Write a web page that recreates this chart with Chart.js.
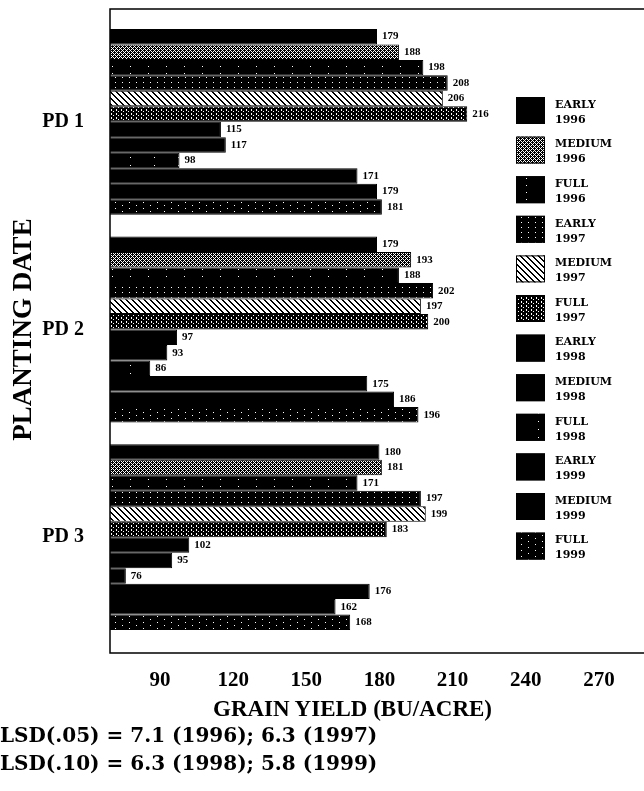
<!DOCTYPE html>
<html>
<head>
<meta charset="utf-8">
<script src="https://cdn.jsdelivr.net/npm/chart.js@4"></script>
<style>
  body { margin: 0; background: #fff; }
  #wrap { position: relative; width: 644px; height: 791px; }
  .txt { position: absolute; font-weight: bold; color: #000; white-space: nowrap; line-height: 1; }
</style>
</head>
<body>
<div id="wrap">
  <canvas id="yieldChart" width="644" height="791"></canvas>
  <div class="txt" style="left:213px; top:697px; font-size:23px; font-family:'Liberation Serif', serif;">GRAIN YIELD (BU/ACRE)</div>
  <div class="txt" style="left:0; top:725px; font-size:20px; font-family:'DejaVu Serif', serif;">LSD(.05) = 7.1 (1996); 6.3 (1997)</div>
  <div class="txt" style="left:0; top:753px; font-size:20px; font-family:'DejaVu Serif', serif;">LSD(.10) = 6.3 (1998); 5.8 (1999)</div>
</div>
<script>
const plantingDates = ["PD 1", "PD 2", "PD 3"];
const seriesNames = ["EARLY", "MEDIUM", "FULL", "EARLY", "MEDIUM", "FULL",
                     "EARLY", "MEDIUM", "FULL", "EARLY", "MEDIUM", "FULL"];
const seriesYears = ["1996", "1996", "1996", "1997", "1997", "1997",
                     "1998", "1998", "1998", "1999", "1999", "1999"];
// yield per series, PD 1 / PD 2 / PD 3
const early96 = [179, 179, 180];
const medium96 = [188, 193, 181];
const full96 = [198, 188, 171];
const early97 = [208, 202, 197];
const medium97 = [206, 197, 199];
const full97 = [216, 200, 183];
const early98 = [115, 97, 102];
const medium98 = [117, 93, 95];
const full98 = [98, 86, 76];
const early99 = [171, 175, 176];
const medium99 = [179, 186, 162];
const full99 = [181, 196, 168];
const xTicks = [90, 120, 150, 180, 210, 240, 270];

const yields = [early96, medium96, full96, early97, medium97, full97,
                early98, medium98, full98, early99, medium99, full99];

const serif = "'Liberation Serif', 'DejaVu Serif', serif";
const wideSerif = "'DejaVu Serif', serif";

function makePattern(w, h, draw) {
    const c = document.createElement("canvas");
    c.width = w;
    c.height = h;
    const g = c.getContext("2d");
    g.fillStyle = "#000";
    g.fillRect(0, 0, w, h);
    g.fillStyle = "#fff";
    draw(g);
    return g.createPattern(c, "repeat");
}

const dots = (pts) => (g) => pts.forEach(([x, y]) => g.fillRect(x, y, 1, 1));

const fills = [
    "#000",
    makePattern(4, 4, dots([[1, 1], [3, 1], [2, 2], [1, 3], [3, 3], [0, 0]])),
    makePattern(18, 7, dots([[4, 3]])),
    makePattern(7, 5, dots([[3, 2]])),
    makePattern(6, 6, (g) => {
        g.fillRect(0, 0, 6, 6);
        g.fillStyle = "#000";
        for (let i = 0; i < 6; i++) {
            g.fillRect(i, i, 1, 1);
            g.fillRect((i + 1) % 6, i, 1, 1);
        }
    }),
    makePattern(5, 4, dots([[1, 1], [3, 3], [1, 2]])),
    "#000",
    "#000",
    makePattern(24, 8, dots([[10, 5]])),
    "#000",
    "#000",
    makePattern(14, 6, dots([[3, 4], [10, 1]])),
];

const framePlugin = {
    id: "frame",
    afterDraw(chart) {
        const { ctx, chartArea } = chart;
        const top = chartArea.top - 9;
        const bottom = chartArea.bottom + 12;
        ctx.save();
        ctx.strokeStyle = "#000";
        ctx.lineWidth = 1.5;
        ctx.beginPath();
        ctx.moveTo(chart.width, top);
        ctx.lineTo(chartArea.left, top);
        ctx.lineTo(chartArea.left, bottom);
        ctx.lineTo(chart.width, bottom);
        ctx.stroke();
        ctx.restore();
    },
};

const valueLabels = {
    id: "valueLabels",
    afterDatasetsDraw(chart) {
        const ctx = chart.ctx;
        ctx.save();
        ctx.font = "bold 11px " + serif;
        ctx.fillStyle = "#000";
        ctx.textBaseline = "middle";
        chart.data.datasets.forEach((ds, i) => {
            chart.getDatasetMeta(i).data.forEach((bar, j) => {
                ctx.fillText(ds.data[j], bar.x + 5, bar.y);
            });
        });
        ctx.restore();
    },
};

const patternLegend = {
    id: "patternLegend",
    afterDraw(chart) {
        const ctx = chart.ctx;
        ctx.save();
        seriesNames.forEach((name, i) => {
            const y = 97 + i * 39.6;
            ctx.fillStyle = fills[i];
            ctx.fillRect(516, y, 29, 27);
            ctx.strokeStyle = "#000";
            ctx.lineWidth = 1;
            ctx.strokeRect(516.5, y + 0.5, 28, 26);
            ctx.fillStyle = "#000";
            ctx.font = "bold 11px " + wideSerif;
            ctx.textBaseline = "middle";
            ctx.fillText(name, 555, y + 8);
            ctx.fillText(seriesYears[i], 555, y + 23);
        });
        ctx.restore();
    },
};

const ctx = document.getElementById("yieldChart").getContext("2d");
new Chart(ctx, {
    type: "bar",
    data: {
        labels: plantingDates,
        datasets: yields.map((values, i) => ({
            label: seriesNames[i] + " " + seriesYears[i],
            data: values,
            backgroundColor: fills[i],
            borderColor: "#000",
            borderWidth: 1,
            categoryPercentage: 0.895,
            barPercentage: 1,
        })),
    },
    options: {
        indexAxis: "y",
        responsive: false,
        animation: false,
        layout: { padding: { top: 18, bottom: 95, left: 0, right: 0 } },
        plugins: { legend: { display: false }, tooltip: { enabled: false } },
        scales: {
            x: {
                min: 69.5,
                max: 288.5,
                afterBuildTicks(scale) {
                    scale.ticks = xTicks.map((v) => ({ value: v }));
                },
                ticks: {
                    font: { family: serif, size: 21, weight: "bold" },
                    color: "#000",
                    padding: 19,
                },
                grid: { display: false },
                border: { display: false },
                afterFit(scale) {
                    scale.height = 55;
                    scale.paddingLeft = 0;
                    scale.paddingRight = 0;
                },
            },
            y: {
                grid: { display: false },
                border: { display: false },
                ticks: {
                    font: { family: serif, size: 20, weight: "bold" },
                    color: "#000",
                    padding: 18,
                },
                title: {
                    display: true,
                    text: "PLANTING DATE",
                    font: { family: serif, size: 27, weight: "bold" },
                    color: "#000",
                    padding: { top: 8, bottom: 0 },
                },
                afterFit(scale) {
                    scale.width = 110;
                    scale.paddingTop = 0;
                    scale.paddingBottom = 0;
                },
            },
        },
    },
    plugins: [framePlugin, valueLabels, patternLegend],
});
</script>
</body>
</html>
